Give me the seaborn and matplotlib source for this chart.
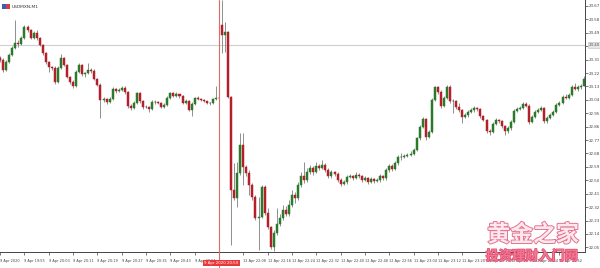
import numpy as np
import pandas as pd
import matplotlib
matplotlib.use("Agg")
import matplotlib.pyplot as plt
import matplotlib.patheffects as pe
import matplotlib.transforms as mtransforms
from matplotlib.patches import Rectangle
import seaborn as sns

# ---------------- data (USDMXN, M1) ----------------
opens = [23.321, 23.307, 23.240, 23.294, 23.341, 23.388, 23.421, 23.415, 23.455, 23.529,
         23.509, 23.455, 23.489, 23.455, 23.408, 23.354, 23.294, 23.260, 23.254, 23.160,
         23.254, 23.321, 23.274, 23.193, 23.160, 23.133, 23.227, 23.274, 23.213, 23.220,
         23.240, 23.234, 23.180, 23.140, 23.039, 23.046, 23.025, 23.046, 23.113, 23.099,
         23.106, 23.119, 23.093, 22.999, 22.985, 23.019, 23.086, 23.032, 22.992, 22.992,
         22.978, 23.025, 23.025, 23.019, 22.992, 23.005, 23.052, 23.086, 23.066, 23.079,
         23.066, 23.019, 23.032, 22.972, 23.012, 23.052, 23.046, 23.039, 23.032, 23.019,
         23.019, 23.046, 23.052, 23.542, 23.475, 23.495, 23.059, 22.435, 22.381, 22.549,
         22.737, 22.589, 22.549, 22.468, 22.388, 22.247, 22.254, 22.455, 22.281, 22.187,
         22.052, 22.146, 22.207, 22.247, 22.301, 22.274, 22.334, 22.401, 22.381, 22.468,
         22.529, 22.502, 22.556, 22.583, 22.556, 22.596, 22.583, 22.603, 22.569, 22.529,
         22.556, 22.542, 22.502, 22.475, 22.489, 22.522, 22.529, 22.515, 22.536, 22.529,
         22.502, 22.515, 22.489, 22.509, 22.495, 22.502, 22.529, 22.515, 22.569, 22.596,
         22.576, 22.616, 22.656, 22.656, 22.663, 22.670, 22.677, 22.703, 22.784, 22.858,
         22.911, 22.791, 22.824, 23.039, 23.126, 23.093, 22.999, 23.052, 23.126, 23.032,
         23.032, 22.992, 22.972, 22.925, 22.938, 22.958, 22.972, 22.985, 22.978, 22.932,
         22.905, 22.831, 22.824, 22.878, 22.905, 22.898, 22.864, 22.831, 22.851, 22.891,
         22.965, 22.978, 22.985, 23.012, 22.999, 22.891, 22.925, 22.958, 22.972, 22.985,
         22.898, 22.918, 22.938, 22.958, 23.005, 23.019, 23.059, 23.052, 23.072, 23.126,
         23.113, 23.126, 23.133]
highs = [23.334, 23.321, 23.307, 23.354, 23.401, 23.576, 23.442, 23.468, 23.542, 23.542,
         23.515, 23.502, 23.509, 23.462, 23.415, 23.361, 23.301, 23.267, 23.267, 23.267,
         23.348, 23.327, 23.280, 23.200, 23.173, 23.240, 23.287, 23.280, 23.227, 23.287,
         23.254, 23.247, 23.187, 23.153, 23.059, 23.052, 23.059, 23.126, 23.119, 23.119,
         23.133, 23.133, 23.099, 23.012, 23.032, 23.093, 23.093, 23.039, 23.005, 22.999,
         23.039, 23.039, 23.032, 23.025, 23.019, 23.066, 23.093, 23.093, 23.093, 23.079,
         23.072, 23.046, 23.039, 23.025, 23.059, 23.066, 23.052, 23.046, 23.032, 23.025,
         23.052, 23.133, 23.066, 23.708, 23.562, 23.502, 23.066, 22.616, 22.623, 22.817,
         22.817, 22.603, 22.569, 22.482, 22.401, 22.388, 22.468, 22.468, 22.314, 22.193,
         22.166, 22.314, 22.274, 22.334, 22.328, 22.368, 22.435, 22.421, 22.489, 22.556,
         22.623, 22.583, 22.603, 22.596, 22.623, 22.609, 22.636, 22.616, 22.583, 22.569,
         22.562, 22.556, 22.515, 22.502, 22.536, 22.542, 22.536, 22.556, 22.549, 22.536,
         22.529, 22.522, 22.522, 22.515, 22.515, 22.542, 22.536, 22.583, 22.609, 22.609,
         22.630, 22.670, 22.683, 22.677, 22.683, 22.697, 22.717, 22.791, 22.871, 22.925,
         22.918, 22.838, 23.052, 23.133, 23.133, 23.106, 23.066, 23.140, 23.140, 23.046,
         23.039, 23.019, 22.978, 22.952, 22.972, 22.985, 22.999, 22.992, 22.985, 22.938,
         22.911, 22.844, 22.891, 22.918, 22.911, 22.905, 22.871, 22.864, 22.905, 22.978,
         22.992, 22.999, 23.025, 23.025, 23.012, 22.938, 22.972, 22.985, 22.999, 22.992,
         22.932, 22.952, 22.972, 23.019, 23.032, 23.072, 23.079, 23.086, 23.140, 23.153,
         23.140, 23.146, 23.200]
lows = [23.294, 23.227, 23.234, 23.287, 23.334, 23.381, 23.395, 23.408, 23.448, 23.495,
        23.448, 23.448, 23.442, 23.401, 23.341, 23.280, 23.227, 23.240, 23.146, 23.153,
        23.247, 23.267, 23.187, 23.146, 23.119, 23.126, 23.220, 23.200, 23.193, 23.213,
        23.220, 23.173, 23.133, 22.918, 23.025, 23.012, 23.019, 23.039, 23.086, 23.093,
        23.099, 23.079, 22.985, 22.972, 22.978, 23.012, 23.019, 22.978, 22.985, 22.958,
        22.972, 23.012, 23.012, 22.985, 22.985, 22.999, 23.046, 23.059, 23.059, 23.052,
        23.012, 23.012, 22.965, 22.932, 23.005, 23.039, 23.032, 23.025, 23.012, 23.005,
        23.012, 23.039, 23.039, 23.354, 23.361, 23.052, 22.066, 22.368, 22.321, 22.536,
        22.468, 22.529, 22.401, 22.368, 22.234, 22.032, 22.247, 22.267, 22.173, 22.039,
        22.026, 22.133, 22.193, 22.234, 22.260, 22.260, 22.321, 22.348, 22.368, 22.455,
        22.482, 22.489, 22.542, 22.536, 22.549, 22.569, 22.576, 22.556, 22.515, 22.515,
        22.529, 22.489, 22.462, 22.468, 22.475, 22.515, 22.502, 22.509, 22.515, 22.489,
        22.495, 22.475, 22.482, 22.482, 22.489, 22.489, 22.502, 22.502, 22.556, 22.562,
        22.569, 22.603, 22.636, 22.650, 22.656, 22.663, 22.670, 22.697, 22.770, 22.851,
        22.770, 22.784, 22.817, 23.032, 23.079, 22.985, 22.992, 23.046, 23.019, 22.952,
        22.978, 22.958, 22.885, 22.918, 22.925, 22.952, 22.958, 22.965, 22.918, 22.898,
        22.817, 22.804, 22.817, 22.871, 22.885, 22.851, 22.804, 22.817, 22.838, 22.885,
        22.958, 22.972, 22.978, 22.992, 22.878, 22.885, 22.918, 22.952, 22.965, 22.885,
        22.885, 22.911, 22.932, 22.952, 22.999, 23.012, 23.046, 23.046, 23.066, 23.106,
        23.099, 23.113, 23.133]
closes = [23.307, 23.240, 23.294, 23.341, 23.388, 23.421, 23.415, 23.455, 23.529, 23.509,
          23.455, 23.489, 23.455, 23.408, 23.354, 23.294, 23.260, 23.254, 23.160, 23.254,
          23.321, 23.274, 23.193, 23.160, 23.133, 23.227, 23.274, 23.213, 23.220, 23.240,
          23.234, 23.180, 23.140, 23.039, 23.046, 23.025, 23.046, 23.113, 23.099, 23.106,
          23.119, 23.093, 22.999, 22.985, 23.019, 23.086, 23.032, 22.992, 22.992, 22.978,
          23.025, 23.025, 23.019, 22.992, 23.005, 23.052, 23.086, 23.066, 23.079, 23.066,
          23.019, 23.032, 22.972, 23.012, 23.052, 23.046, 23.039, 23.032, 23.019, 23.019,
          23.046, 23.052, 23.052, 23.475, 23.495, 23.059, 22.435, 22.381, 22.549, 22.737,
          22.589, 22.549, 22.468, 22.388, 22.247, 22.254, 22.455, 22.281, 22.187, 22.052,
          22.146, 22.207, 22.247, 22.301, 22.274, 22.334, 22.401, 22.381, 22.468, 22.529,
          22.502, 22.556, 22.583, 22.556, 22.596, 22.583, 22.603, 22.569, 22.529, 22.556,
          22.542, 22.502, 22.475, 22.489, 22.522, 22.529, 22.515, 22.536, 22.529, 22.502,
          22.515, 22.489, 22.509, 22.495, 22.502, 22.529, 22.515, 22.569, 22.596, 22.576,
          22.616, 22.656, 22.656, 22.663, 22.670, 22.677, 22.703, 22.784, 22.858, 22.911,
          22.791, 22.824, 23.039, 23.126, 23.093, 22.999, 23.052, 23.126, 23.032, 23.032,
          22.992, 22.972, 22.925, 22.938, 22.958, 22.972, 22.985, 22.978, 22.932, 22.905,
          22.831, 22.824, 22.878, 22.905, 22.898, 22.864, 22.831, 22.851, 22.891, 22.965,
          22.978, 22.985, 23.012, 22.999, 22.891, 22.925, 22.958, 22.972, 22.985, 22.898,
          22.918, 22.938, 22.958, 23.005, 23.019, 23.059, 23.052, 23.072, 23.126, 23.113,
          23.126, 23.133, 23.180]

price_ticks = [23.67, 23.58, 23.49, 23.40, 23.31, 23.22, 23.13, 23.04, 22.95, 22.86,
               22.77, 22.68, 22.59, 22.50, 22.41, 22.32, 22.23, 22.14, 22.05]
time_labels = ["9 Apr 2020", "9 Apr 19:55", "9 Apr 20:03", "9 Apr 20:11", "9 Apr 20:19",
               "9 Apr 20:27", "9 Apr 20:35", "9 Apr 20:43", "9 Apr 20:51", "",
               "12 Apr 22:08", "12 Apr 22:16", "12 Apr 22:24", "12 Apr 22:32", "12 Apr 22:40",
               "12 Apr 22:48", "12 Apr 22:56", "12 Apr 23:04", "12 Apr 23:12", "12 Apr 23:20",
               "12 Apr 23:28", "12 Apr 23:36", "12 Apr 23:44", "12 Apr 23:52"]
bars_per_label = 8
cursor_bar = 72
cursor_label = "9 Apr 2020 20:59"
price_line = 23.408
price_line_label = "23.40"
symbol = "USDMXN,M1"
watermark_top = "黄金之家"
watermark_bottom = "投资理财入门网"

# ---------------- figure ----------------
df = pd.DataFrame({"open": opens, "high": highs, "low": lows, "close": closes})
df["bar"] = np.arange(len(df))

sns.set_theme(style="white")
plt.rcParams["font.family"] = ["DejaVu Sans"]

fig = plt.figure(figsize=(6.0, 2.68), dpi=100)
ax = fig.add_axes([0.0, 16 / 268, 585 / 600, 252 / 268])
ax.set_facecolor("white")

GREEN = "#2b7a2b"
RED = "#b3202a"
DOJI = "#333333"
WICK = "#8f8f8f"

ax.vlines(df["bar"], df["low"], df["high"], color=WICK, linewidth=0.7, zorder=2)
diff = df["close"] - df["open"]
colors = np.where(diff > 0.0005, GREEN, np.where(diff < -0.0005, RED, DOJI))
ax.bar(df["bar"], diff, bottom=df["open"], width=0.66, color=colors,
       edgecolor=colors, linewidth=0.35, zorder=3)

ax.set_ylim(22.019, 23.71)
ax.set_xlim(-0.05, 192.4)

# horizontal price line and vertical cursor line
ax.axhline(price_line, color="#cfcfcf", linewidth=0.8, zorder=1)
ax.axvline(cursor_bar, color="#e06a6a", linewidth=0.8, zorder=4)
ax.axvline(cursor_bar, ymin=-0.06, ymax=0, color="#e06a6a", linewidth=0.8,
           clip_on=False, zorder=4)

# axes styling
sns.despine(ax=ax, left=True, top=True, right=False, bottom=False)
for s in ("right", "bottom"):
    ax.spines[s].set_color("#444444")
    ax.spines[s].set_linewidth(0.7)

ax.yaxis.tick_right()
ax.set_yticks(price_ticks)
ax.set_yticklabels([f"{v:.2f}" for v in price_ticks])
ax.tick_params(axis="y", which="major", direction="out", length=2.0, width=0.5,
               colors="#444444", labelsize=2.9, pad=0.8, right=True, left=False)

xticks = [i * bars_per_label for i in range(len(time_labels))]
ax.set_xticks(xticks)
ax.set_xticklabels(time_labels)
ax.tick_params(axis="x", which="major", direction="out", length=2.0, width=0.5,
               colors="#444444", labelsize=2.5, pad=3.2, bottom=True)
for lab in ax.get_xticklabels():
    lab.set_horizontalalignment("left")
ax.grid(False)

# cursor time box
trans_x = mtransforms.blended_transform_factory(ax.transData, ax.transAxes)
ax.text(cursor_bar + 0.8, -0.044, cursor_label, transform=trans_x, ha="center", va="center",
        fontsize=2.8, color="white", zorder=6, clip_on=False,
        bbox=dict(boxstyle="square,pad=0.3", facecolor="#e8383c", edgecolor="none"))

# price line label box on the axis
trans_y = mtransforms.blended_transform_factory(ax.transAxes, ax.transData)
ax.text(1.007, price_line, price_line_label, transform=trans_y, ha="left", va="center",
        fontsize=2.9, color="#555555", zorder=6, clip_on=False,
        bbox=dict(boxstyle="square,pad=0.25", facecolor="#e6e6e6", edgecolor="#bdbdbd",
                  linewidth=0.4))

# symbol title with small icon
fig.patches.append(Rectangle((2 / 600, 1 - 9 / 268), 4 / 600, 5 / 268,
                             transform=fig.transFigure, facecolor="#3a5fb0", edgecolor="none"))
fig.patches.append(Rectangle((6 / 600, 1 - 9 / 268), 4 / 600, 5 / 268,
                             transform=fig.transFigure, facecolor="#d04040", edgecolor="none"))
fig.text(12 / 600, 1 - 6.5 / 268, symbol, fontsize=3.2, color="#333333", va="center", ha="left")

# watermark
cjk = ["Noto Sans CJK SC", "DejaVu Sans"]
fig.text(533 / 600, 1 - 235 / 268, watermark_top, family=cjk, fontsize=16.5, ha="center",
         va="center", color="#fde8ee", fontweight="bold",
         path_effects=[pe.withStroke(linewidth=1.4, foreground="#e4738f")])
fig.text(532 / 600, 1 - 256 / 268, watermark_bottom, family=cjk, fontsize=9.5, ha="center",
         va="center", color="#f07893", fontweight="bold",
         path_effects=[pe.withStroke(linewidth=1.0, foreground="#e04a6e")])

fig.savefig("out.png", dpi=100, facecolor="white")
